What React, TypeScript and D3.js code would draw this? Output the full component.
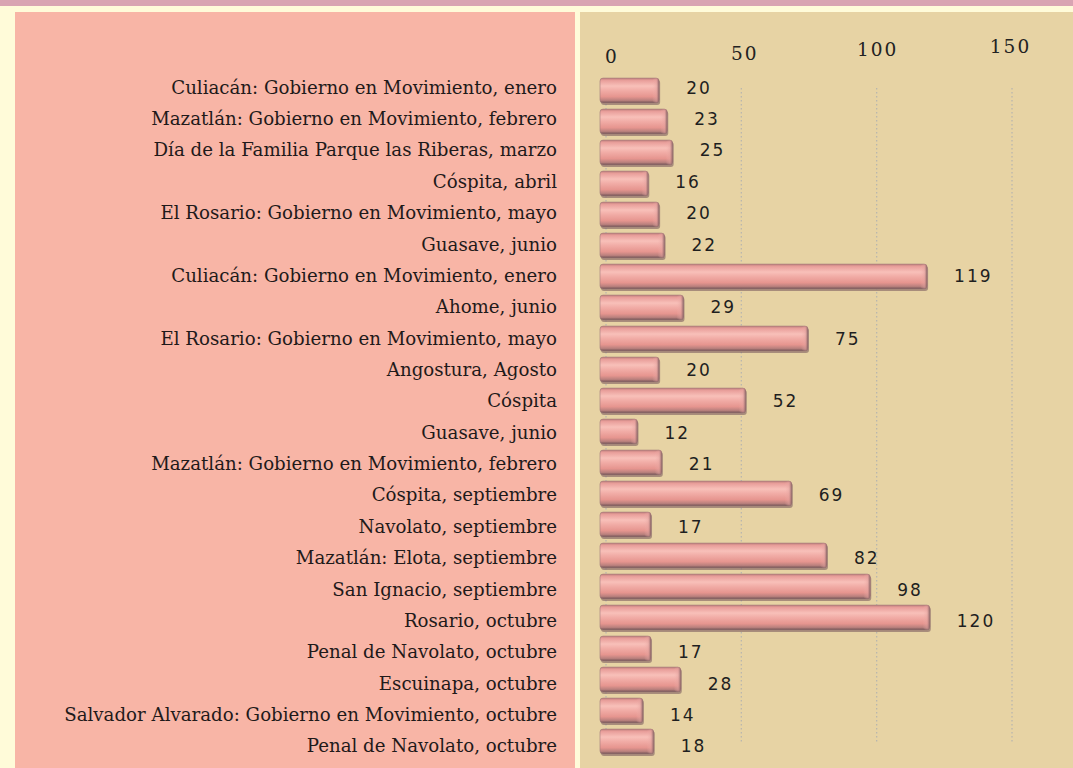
import React from "react";
import * as d3 from "d3";

// data
const categories = [
  "Culiacán: Gobierno en Movimiento, enero",
  "Mazatlán: Gobierno en Movimiento, febrero",
  "Día de la Familia Parque las Riberas, marzo",
  "Cóspita, abril",
  "El Rosario: Gobierno en Movimiento, mayo",
  "Guasave, junio",
  "Culiacán: Gobierno en Movimiento, enero",
  "Ahome, junio",
  "El Rosario: Gobierno en Movimiento, mayo",
  "Angostura, Agosto",
  "Cóspita",
  "Guasave, junio",
  "Mazatlán: Gobierno en Movimiento, febrero",
  "Cóspita, septiembre",
  "Navolato, septiembre",
  "Mazatlán: Elota, septiembre",
  "San Ignacio, septiembre",
  "Rosario, octubre",
  "Penal de Navolato, octubre",
  "Escuinapa, octubre",
  "Salvador Alvarado: Gobierno en Movimiento, octubre",
  "Penal de Navolato, octubre",
];

const values = [20, 23, 25, 16, 20, 22, 119, 29, 75, 20, 52, 12, 21, 69, 17, 82, 98, 120, 17, 28, 14, 18];

const ticks = [0, 50, 100, 150];

const W = 1073;
const H = 768;

const App = () => {
  const x = d3.scaleLinear().domain([0, 150]).range([605, 1011]);
  // bars
  const y = d3
    .scaleBand<number>()
    .domain(d3.range(categories.length))
    .range([75, 757])
    .paddingInner(0.2)
    .paddingOuter(0.1);
  // text rows are spaced a touch wider than the bars
  const yText = d3
    .scaleBand<number>()
    .domain(d3.range(categories.length))
    .range([72, 762]);
  const bh = y.bandwidth();
  const th = yText.bandwidth();

  return (
    <svg width={W} height={H} style={{ position: "absolute", left: 0, top: 0 }}>
      <defs>
        <linearGradient id="barGrad" x1="0" y1="0" x2="0" y2="1">
          <stop offset="0" stopColor="#c2807d" />
          <stop offset="0.1" stopColor="#e99f9b" />
          <stop offset="0.32" stopColor="#f8c0b9" />
          <stop offset="0.5" stopColor="#f1aca6" />
          <stop offset="0.75" stopColor="#e6958f" />
          <stop offset="0.9" stopColor="#b9807d" />
          <stop offset="1" stopColor="#6f5153" />
        </linearGradient>
        <linearGradient id="capGrad" x1="0" y1="0" x2="1" y2="0">
          <stop offset="0" stopColor="#f2b2ac" stopOpacity="0" />
          <stop offset="0.6" stopColor="#e3a29e" stopOpacity="0.5" />
          <stop offset="1" stopColor="#7f5c5e" stopOpacity="0.9" />
        </linearGradient>
      </defs>

      {/* page background */}
      <rect x={0} y={0} width={W} height={H} fill="#fffbd9" />
      <rect x={0} y={0} width={W} height={6} fill="#d9a4b2" />
      <rect x={15} y={12} width={560} height={H - 12} fill="#f8b5a6" />
      <rect x={580} y={12} width={W - 580} height={H - 12} fill="#e7d3a4" />

      {/* dotted gridlines */}
      {ticks.map((t) => (
        <line
          key={"g" + t}
          x1={x(t) + 1}
          x2={x(t) + 1}
          y1={88}
          y2={742}
          stroke="#b9b6ae"
          strokeWidth={1.3}
          strokeDasharray="1.5,2.5"
        />
      ))}

      {/* tick labels */}
      {ticks.map((t, i) => (
        <text
          key={"t" + t}
          x={x(t) + 7 - i * 2.5}
          y={63 - i * 3.3}
          textAnchor="middle"
          fontFamily="DejaVu Serif"
          fontSize={18.5}
          letterSpacing={2}
          fill="#222"
        >
          {t}
        </text>
      ))}

      {/* category labels */}
      {categories.map((c, i) => (
        <text
          key={"c" + i}
          x={557}
          y={(yText(i) ?? 0) + th / 2 + 6}
          textAnchor="end"
          fontFamily="DejaVu Serif"
          fontSize={18.2}
          fill="#1f1a1a"
        >
          {c}
        </text>
      ))}

      {/* bars */}
      {values.map((v, i) => {
        const top = y(i) ?? 0;
        const x0 = x(0) - 5;
        const w = x(v) - x0;
        return (
          <g key={"b" + i}>
            <rect x={x0 + 1} y={top + 2} width={w} height={bh} rx={3} fill="#7f5f60" opacity={0.6} />
            <rect x={x0} y={top} width={w} height={bh} rx={3} fill="url(#barGrad)" stroke="#a07878" strokeWidth={0.6} />
            <rect x={x0 + w - 7} y={top + 0.5} width={7} height={bh - 1} rx={3} fill="url(#capGrad)" />
          </g>
        );
      })}

      {/* value labels */}
      {values.map((v, i) => (
        <text
          key={"v" + i}
          x={x(v) + 27}
          y={(yText(i) ?? 0) + th / 2 + 6}
          fontFamily="DejaVu Sans"
          fontSize={17}
          letterSpacing={2}
          fill="#1f1f1f"
        >
          {v}
        </text>
      ))}
    </svg>
  );
};

export default App;
